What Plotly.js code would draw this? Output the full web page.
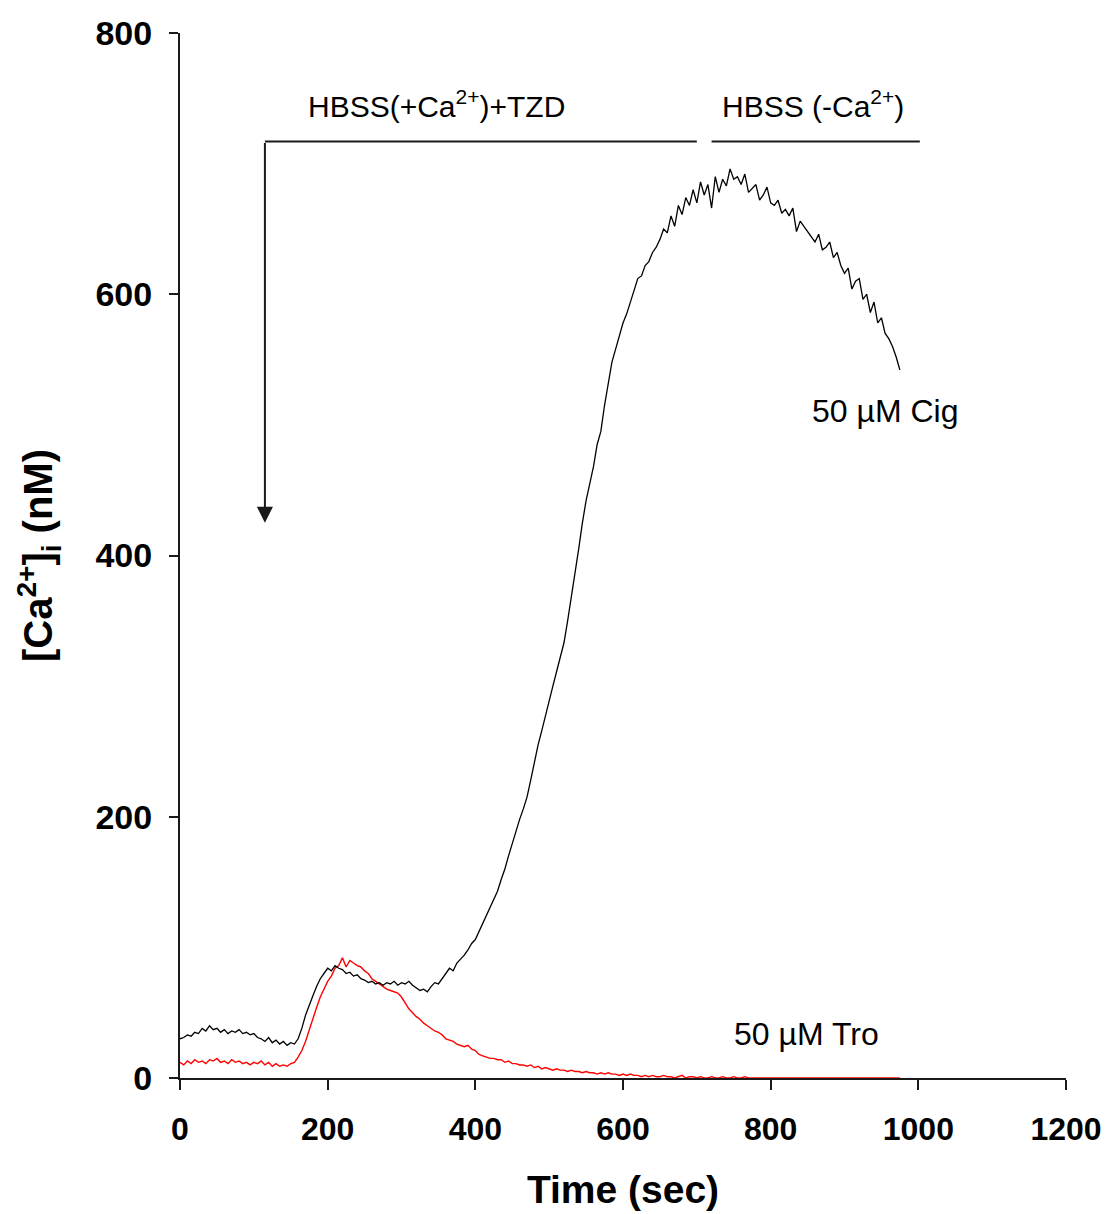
<!DOCTYPE html>
<html>
<head>
<meta charset="utf-8">
<script src="https://cdn.plot.ly/plotly-3.0.1.min.js"></script>
<style>html,body{margin:0;padding:0;background:#fff;}#chart{width:1110px;height:1214px;}</style>
</head>
<body>
<div id="chart"></div>
<script>
// Sampling: first time point and interval (sec)
const timeStart = 0;
const timeStep = 5;

// 50 µM Cig trace, [Ca2+]i (nM), every 5 s from 0 to 975 s
const cigValues = [
  30,31,33,32,35,34,38,36,40,37,
  38,35,37,34,36,35,37,34,35,33,
  34,31,30,28,31,27,29,26,28,25,
  27,26,30,38,48,56,63,70,76,80,
  84,82,86,84,83,80,81,78,79,76,
  75,73,74,72,73,71,73,72,74,71,
  73,72,74,71,69,67,68,66,70,73,
  72,76,80,84,82,88,91,94,98,103,
  106,112,118,124,130,136,143,152,160,170,
  180,190,198,206,215,228,242,255,266,278,
  290,300,311,322,333,350,368,385,405,425,
  442,455,468,485,495,515,530,548,558,568,
  578,585,595,603,612,614,622,625,632,636,
  642,650,647,660,652,668,661,674,668,680,
  670,686,676,684,666,690,678,688,683,696,
  688,690,684,692,678,681,684,672,676,682,
  670,668,672,662,665,660,666,648,656,652,
  648,644,640,646,634,636,640,628,632,622,
  616,620,604,610,612,596,600,586,594,578,
  582,570,566,560,552,542
];

// 50 µM Tro trace, [Ca2+]i (nM), every 5 s from 0 to 975 s
const troValues = [
  12,10,13,11,14,12,13,11,14,13,
  15,12,13,11,14,12,13,11,12,10,
  12,11,13,10,12,9,11,9,10,9,
  11,12,16,21,28,37,46,54,62,68,
  74,78,84,86,92,85,90,88,86,85,
  82,80,76,74,72,70,68,67,66,65,
  62,58,53,50,47,45,42,40,38,36,
  35,33,30,29,28,26,25,24,25,22,
  21,18,17,16,15,15,14,14,12,13,
  11,11,10,10,9,10,8,9,7,8,
  7,6,7,6,6,5,6,5,5,4,
  5,4,4,3,4,3,4,3,3,2,
  3,2,3,2,2,1,2,1,2,1,
  1,2,1,1,0,1,2,0,1,1,
  0,1,0,0,1,0,0,1,0,0,
  1,0,0,1,0,0,0,0,0,0,
  0,0,0,0,0,0,0,0,0,0,
  0,0,0,0,0,0,0,0,0,0,
  0,0,0,0,0,0,0,0,0,0,
  0,0,0,0,0,0
];

const xTicks = [0, 200, 400, 600, 800, 1000, 1200];
const yTicks = [0, 200, 400, 600, 800];

// Solution bars: [start time, end time, level]
const barTZD = [115, 700, 717];
const barNoCa = [720, 1002, 717];
const arrowX = 115;
const arrowTop = 717;
const arrowTip = 425;

const labelTZD = 'HBSS(+Ca<sup>2+</sup>)+TZD';
const labelNoCa = 'HBSS (-Ca<sup>2+</sup>)';
const labelCig = '50 µM Cig';
const labelTro = '50 µM Tro';

const FONT = 'Liberation Sans, Arial, Helvetica, sans-serif';

const traces = [
  {type: 'scatter', mode: 'lines', x0: timeStart, dx: timeStep, y: troValues,
   line: {color: '#ff0000', width: 1.4}, hoverinfo: 'skip', showlegend: false},
  {type: 'scatter', mode: 'lines', x0: timeStart, dx: timeStep, y: cigValues,
   line: {color: '#000000', width: 1.3}, hoverinfo: 'skip', showlegend: false}
];

const layout = {
  width: 1110, height: 1214,
  margin: {l: 180, r: 44, t: 33, b: 136, pad: 0},
  paper_bgcolor: '#ffffff', plot_bgcolor: '#ffffff',
  showlegend: false,
  font: {family: FONT, color: '#000'},
  xaxis: {
    range: [0, 1200], tickvals: xTicks, ticktext: xTicks.map(String),
    showgrid: false, zeroline: false, showline: true, linecolor: '#1a1a1a', linewidth: 2,
    ticks: 'outside', ticklen: 10, tickwidth: 2, tickcolor: '#1a1a1a',
    ticklabelstandoff: 12,
    tickfont: {family: FONT, size: 32, weight: 'bold', color: '#000'},
    title: {text: 'Time (sec)', font: {family: FONT, size: 39, weight: 'bold', color: '#000'}, standoff: 29},
    layer: 'below traces', fixedrange: true
  },
  yaxis: {
    range: [0, 800], tickvals: yTicks, ticktext: yTicks.map(String),
    showgrid: false, zeroline: false, showline: true, linecolor: '#1a1a1a', linewidth: 2,
    ticks: 'outside', ticklen: 9, tickwidth: 2, tickcolor: '#1a1a1a',
    ticklabelstandoff: 10,
    tickfont: {family: FONT, size: 34, weight: 'bold', color: '#000'},
    title: {text: '[Ca<sup>2+</sup>]<sub>i</sub> (nM)', font: {family: FONT, size: 40, weight: 'bold', color: '#000'}, standoff: 30},
    layer: 'below traces', fixedrange: true
  },
  shapes: [
    {type: 'line', xref: 'x', yref: 'y', x0: barTZD[0], x1: barTZD[1], y0: barTZD[2], y1: barTZD[2],
     line: {color: '#1a1a1a', width: 2}},
    {type: 'line', xref: 'x', yref: 'y', x0: barNoCa[0], x1: barNoCa[1], y0: barNoCa[2], y1: barNoCa[2],
     line: {color: '#1a1a1a', width: 2}}
  ],
  annotations: [
    {xref: 'x', yref: 'y', x: arrowX, y: arrowTip, axref: 'x', ayref: 'y', ax: arrowX, ay: arrowTop,
     text: '', showarrow: true, arrowhead: 2, arrowsize: 1.6, arrowwidth: 2, arrowcolor: '#1a1a1a'},
    {xref: 'x', yref: 'y', x: 348, y: 746, text: labelTZD, showarrow: false,
     font: {family: FONT, size: 30, color: '#000'}},
    {xref: 'x', yref: 'y', x: 857, y: 746, text: labelNoCa, showarrow: false,
     font: {family: FONT, size: 30, color: '#000'}},
    {xref: 'x', yref: 'y', x: 955, y: 511, text: labelCig, showarrow: false,
     font: {family: FONT, size: 32, color: '#000'}},
    {xref: 'x', yref: 'y', x: 848, y: 34, text: labelTro, showarrow: false,
     font: {family: FONT, size: 32, color: '#000'}}
  ]
};

Plotly.newPlot('chart', traces, layout, {staticPlot: true, displayModeBar: false});
</script>
</body>
</html>
